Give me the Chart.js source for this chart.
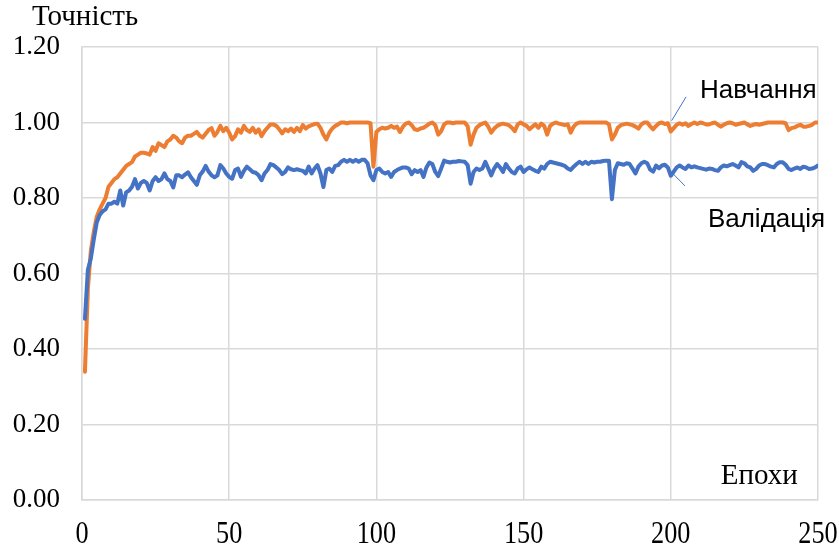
<!DOCTYPE html>
<html>
<head>
<meta charset="utf-8">
<script src="https://cdn.jsdelivr.net/npm/chart.js@4/dist/chart.umd.min.js"></script>
<style>
html,body{margin:0;padding:0;background:#fff;}
#wrap{width:839px;height:544px;}
</style>
</head>
<body>
<div id="wrap"><canvas id="c" width="839" height="544"></canvas></div>
<script>
const epochs = Array.from({length: 250}, (_, i) => i + 1);
const xTicks = [0, 50, 100, 150, 200, 250];
const yTicks = [0, 0.2, 0.4, 0.6, 0.8, 1.0, 1.2];
const seriesNames = ["Навчання", "Валідація"];
const axisTitles = {y: "Точність", x: "Епохи"};

const trainAcc = [
0.34,0.56,0.66,0.71,0.75,0.77,0.785,0.80,0.83,0.84,
0.85,0.855,0.865,0.875,0.885,0.89,0.895,0.91,0.915,0.92,
0.92,0.918,0.915,0.935,0.925,0.945,0.94,0.935,0.95,0.955,
0.965,0.96,0.95,0.945,0.96,0.965,0.965,0.97,0.975,0.965,
0.96,0.97,0.98,0.985,0.965,0.975,0.991,0.977,0.986,0.973,
0.955,0.964,0.982,0.973,0.991,0.98,0.975,0.986,0.973,0.982,
0.964,0.977,0.986,0.995,0.995,0.991,0.982,0.971,0.982,0.977,
0.984,0.975,0.986,0.977,0.993,0.984,0.99,0.993,0.996,0.997,
0.986,0.968,0.955,0.973,0.984,0.991,0.995,1.0,1.0,0.998,
1.0,1.0,1.0,1.0,1.0,1.0,1.0,0.998,0.883,0.975,
0.982,0.986,0.984,0.986,0.991,0.986,0.989,0.975,0.989,0.997,
1.0,0.993,0.982,0.98,0.984,0.986,0.991,0.997,1.0,0.993,
0.968,0.977,0.995,1.0,1.0,0.998,1.0,1.0,1.0,1.0,
0.99,0.941,0.968,0.986,0.993,0.997,1.0,0.989,0.973,0.984,
0.991,0.995,0.997,0.995,0.993,0.986,0.977,0.995,1.0,0.995,
0.991,0.982,0.989,0.995,0.986,0.997,0.991,0.968,0.991,0.997,
1.0,0.997,0.995,0.993,0.995,0.973,0.989,0.997,1.0,1.0,
1.0,1.0,1.0,1.0,1.0,1.0,1.0,1.0,0.995,0.955,
0.968,0.986,0.993,0.995,0.997,0.995,0.993,0.989,0.984,0.995,
1.0,1.0,0.99,0.982,0.991,0.998,1.0,0.996,0.998,0.976,
0.985,0.994,0.998,0.994,0.998,0.991,0.996,1.0,0.996,1.0,
0.998,0.995,0.995,0.998,1.0,0.994,0.989,0.994,0.998,1.0,
0.998,0.994,0.996,0.998,1.0,0.995,0.991,0.994,0.996,0.994,
0.996,0.998,1.0,1.0,1.0,1.0,1.0,1.0,0.998,0.98,
0.985,0.987,0.991,0.994,0.989,0.989,0.991,0.994,1.0,1.0
];

const valAcc = [
0.48,0.61,0.64,0.69,0.735,0.755,0.765,0.77,0.785,0.785,
0.79,0.785,0.82,0.78,0.815,0.82,0.83,0.85,0.825,0.84,
0.845,0.84,0.82,0.845,0.855,0.845,0.85,0.865,0.85,0.845,
0.828,0.86,0.86,0.855,0.862,0.868,0.855,0.845,0.835,0.86,
0.87,0.885,0.87,0.86,0.855,0.86,0.887,0.878,0.865,0.856,
0.851,0.874,0.878,0.856,0.872,0.883,0.876,0.869,0.867,0.86,
0.847,0.865,0.874,0.89,0.887,0.881,0.874,0.863,0.869,0.881,
0.876,0.874,0.876,0.874,0.872,0.865,0.883,0.865,0.878,0.887,
0.865,0.829,0.874,0.878,0.869,0.885,0.887,0.896,0.901,0.896,
0.901,0.896,0.901,0.896,0.901,0.901,0.892,0.86,0.847,0.874,
0.878,0.869,0.865,0.869,0.856,0.869,0.874,0.878,0.881,0.881,
0.878,0.863,0.874,0.869,0.874,0.856,0.881,0.894,0.89,0.869,
0.858,0.878,0.899,0.896,0.894,0.896,0.896,0.898,0.897,0.896,
0.887,0.838,0.869,0.878,0.874,0.878,0.896,0.878,0.86,0.878,
0.89,0.881,0.869,0.89,0.878,0.869,0.865,0.878,0.883,0.869,
0.876,0.881,0.876,0.872,0.869,0.883,0.878,0.89,0.896,0.894,
0.892,0.89,0.888,0.885,0.878,0.874,0.883,0.89,0.896,0.89,
0.896,0.89,0.896,0.894,0.896,0.896,0.898,0.899,0.899,0.797,
0.874,0.892,0.89,0.888,0.892,0.89,0.878,0.865,0.883,0.892,
0.896,0.892,0.875,0.87,0.886,0.879,0.886,0.888,0.881,0.859,
0.87,0.881,0.886,0.881,0.877,0.886,0.881,0.884,0.881,0.879,
0.877,0.875,0.878,0.877,0.874,0.872,0.881,0.886,0.884,0.887,
0.89,0.886,0.881,0.895,0.892,0.884,0.881,0.872,0.877,0.886,
0.89,0.89,0.887,0.883,0.881,0.89,0.895,0.895,0.888,0.877,
0.874,0.878,0.881,0.877,0.883,0.881,0.877,0.878,0.881,0.886
];

const ORANGE = '#ED7D31';
const BLUE = '#4472C4';
const GRID = '#d9d9d9';
const SERIF = '"Liberation Serif", "Times New Roman", serif';
const SANS = '"Liberation Sans", Arial, sans-serif';

const annotations = {
  id: 'annotations',
  afterDraw(chart) {
    const ctx = chart.ctx;
    const xs = chart.scales.x, ys = chart.scales.y;
    const px = v => xs.getPixelForValue(v);
    const py = v => ys.getPixelForValue(v);
    ctx.save();
    // x tick labels (stretched serif digits, as in the reference)
    ctx.fillStyle = '#000';
    ctx.textAlign = 'center';
    ctx.textBaseline = 'alphabetic';
    ctx.font = '32px ' + SERIF;
    xTicks.forEach(v => {
      ctx.save();
      ctx.translate(px(v), chart.chartArea.bottom + 43);
      ctx.scale(0.82, 1);
      ctx.fillText(String(v), 0, 0);
      ctx.restore();
    });
    // leader lines
    ctx.strokeStyle = BLUE;
    ctx.lineWidth = 1;
    ctx.beginPath();
    ctx.moveTo(px(200.3), py(1.005));
    ctx.lineTo(px(205.2), py(1.068));
    ctx.moveTo(px(200.3), py(0.868));
    ctx.lineTo(px(204.8), py(0.832));
    ctx.stroke();
    // series labels
    ctx.textAlign = 'left';
    ctx.font = '26px ' + SANS;
    ctx.fillText(seriesNames[0], px(209.9), py(1.065));
    ctx.fillText(seriesNames[1], px(212.6), py(0.724));
    // axis titles
    ctx.font = '29px ' + SERIF;
    ctx.fillText(axisTitles.x, px(217), py(0.043));
    ctx.fillText(axisTitles.y, 32, 25);
    ctx.restore();
  }
};

new Chart(document.getElementById('c'), {
  type: 'line',
  data: {
    datasets: [
      {
        label: seriesNames[1],
        data: epochs.map((e, i) => ({x: e, y: valAcc[i]})),
        borderColor: BLUE,
        backgroundColor: BLUE,
        borderWidth: 4,
        borderJoinStyle: 'round',
        borderCapStyle: 'round',
        pointRadius: 0,
        tension: 0,
        order: 0
      },
      {
        label: seriesNames[0],
        data: epochs.map((e, i) => ({x: e, y: trainAcc[i]})),
        borderColor: ORANGE,
        backgroundColor: ORANGE,
        borderWidth: 4,
        borderJoinStyle: 'round',
        borderCapStyle: 'round',
        pointRadius: 0,
        tension: 0,
        order: 1
      }
    ]
  },
  options: {
    responsive: false,
    animation: false,
    devicePixelRatio: 1,
    layout: {padding: {top: 47, right: 21, left: 0, bottom: 0}},
    plugins: {legend: {display: false}, tooltip: {enabled: false}},
    scales: {
      x: {
        type: 'linear',
        min: 0, max: 250,
        afterBuildTicks: s => { s.ticks = xTicks.map(v => ({value: v})); },
        afterFit: s => { s.height = 44; },
        grid: {color: GRID, lineWidth: 1.5, drawTicks: false},
        border: {color: GRID, width: 1.5},
        ticks: {display: false}
      },
      y: {
        min: 0, max: 1.2,
        afterBuildTicks: s => { s.ticks = yTicks.map(v => ({value: v})); },
        afterFit: s => { s.width = 82; },
        grid: {color: GRID, lineWidth: 1.5, drawTicks: false},
        border: {color: GRID, width: 1.5},
        ticks: {
          color: '#000', padding: 22,
          font: {family: SERIF, size: 27},
          callback: v => Number(v).toFixed(2)
        }
      }
    }
  },
  plugins: [annotations]
});
</script>
</body>
</html>
